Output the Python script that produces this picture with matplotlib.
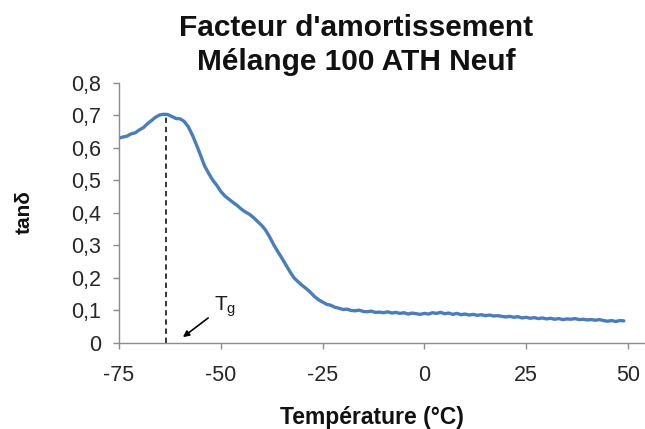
import matplotlib
matplotlib.use('Agg')
import matplotlib.pyplot as plt

plt.rcParams['font.family'] = ['Liberation Sans', 'DejaVu Sans']
plt.rcParams['mathtext.default'] = 'regular'
plt.rcParams['axes.unicode_minus'] = False

# temperature (°C) and tan delta
temperature = [-75, -74, -73, -72, -71, -70, -69, -68, -67, -66, -65, -64, -63, -62, -61,
               -60, -59, -58, -57, -56, -55, -54, -53, -52, -51, -50, -49, -48, -47, -46,
               -45, -44, -43, -42, -41, -40, -39, -38, -37, -36, -35, -34, -33, -32, -31,
               -30, -29, -28, -27, -26, -25, -24, -23, -22, -21, -20, -19, -18, -17, -16,
               -15, -14, -13, -12, -11, -10, -9, -8, -7, -6, -5, -4, -3, -2, -1,
               0, 1, 2, 3, 4, 5, 6, 7, 8, 9, 10, 11, 12, 13, 14,
               15, 16, 17, 18, 19, 20, 21, 22, 23, 24, 25, 26, 27, 28, 29,
               30, 31, 32, 33, 34, 35, 36, 37, 38, 39, 40, 41, 42, 43, 44,
               45, 46, 47, 48, 49]
tan_delta = [0.630, 0.633, 0.636, 0.643, 0.646, 0.655, 0.662, 0.674, 0.684, 0.694, 0.701, 0.703, 0.702, 0.696, 0.690,
             0.689, 0.681, 0.665, 0.640, 0.610, 0.578, 0.545, 0.522, 0.501, 0.485, 0.466, 0.452, 0.442, 0.432, 0.423,
             0.412, 0.403, 0.396, 0.386, 0.374, 0.362, 0.347, 0.326, 0.302, 0.281, 0.261, 0.240, 0.219, 0.200, 0.188,
             0.177, 0.167, 0.156, 0.143, 0.133, 0.126, 0.119, 0.116, 0.110, 0.107, 0.103, 0.104, 0.100, 0.099, 0.101,
             0.097, 0.096, 0.098, 0.094, 0.095, 0.093, 0.096, 0.092, 0.094, 0.091, 0.093, 0.089, 0.092, 0.090, 0.088,
             0.091, 0.089, 0.093, 0.091, 0.094, 0.090, 0.092, 0.088, 0.091, 0.087, 0.089, 0.086, 0.088, 0.085, 0.087,
             0.084, 0.086, 0.083, 0.084, 0.082, 0.080, 0.082, 0.079, 0.081, 0.077, 0.079, 0.076, 0.078, 0.075, 0.077,
             0.074, 0.076, 0.073, 0.075, 0.072, 0.074, 0.073, 0.075, 0.072, 0.073, 0.071, 0.072, 0.070, 0.072, 0.069,
             0.067, 0.069, 0.066, 0.069, 0.068]

tg = -63.5
tg_peak = 0.705
x_ticks = [-75, -50, -25, 0, 25, 50]
y_ticks = [0, 0.1, 0.2, 0.3, 0.4, 0.5, 0.6, 0.7, 0.8]
y_labels = ['0', '0,1', '0,2', '0,3', '0,4', '0,5', '0,6', '0,7', '0,8']

fig = plt.figure(figsize=(6.45, 4.29), dpi=100)
ax = fig.add_axes([119 / 645, 1 - 343 / 429, 526 / 645, 260.3 / 429])

ax.plot(temperature, tan_delta, color='#4a7ebb', lw=2.4, solid_capstyle='round')
ax.plot([tg, tg], [0, tg_peak], color='black', lw=1.1, ls=(0, (3.5, 2.5)))

ax.annotate('', xy=(-59.3, 0.018), xytext=(-53.1, 0.077),
            arrowprops=dict(arrowstyle='-|>', color='black', lw=1.2,
                            mutation_scale=9, shrinkA=0, shrinkB=0))
ax.text(-51.6, 0.112, 'T$_g$', fontsize=15, color='#1a1a1a', va='center', ha='left')

ax.set_xlim(-75, 54.2)
ax.set_ylim(0, 0.8)
ax.set_xticks(x_ticks)
ax.set_yticks(y_ticks)
ax.set_yticklabels(y_labels)

for side in ['top', 'right']:
    ax.spines[side].set_visible(False)
for side in ['left', 'bottom']:
    ax.spines[side].set_color('#8c8c8c')
    ax.spines[side].set_linewidth(1.0)

ax.tick_params(axis='both', colors='#8c8c8c', length=4, width=1.0, labelsize=15.5,
               labelcolor='#262626')
ax.tick_params(axis='x', pad=12)
ax.tick_params(axis='y', pad=9)

ax.set_xlabel('Température (°C)', fontsize=16.5, fontweight='bold', color='#111111')
ax.xaxis.set_label_coords(0.481, (343 - 406) / 260.3)
ax.set_ylabel('tanδ', fontsize=15, fontweight='bold', color='#111111')
ax.yaxis.set_label_coords(-0.163, 0.504)

fig.text(356 / 645, 1 - 36 / 429, "Facteur d'amortissement",
         fontsize=21.5, fontweight='bold', ha='center', va='baseline', color='#111111')
fig.text(356 / 645, 1 - 70 / 429, "Mélange 100 ATH Neuf",
         fontsize=21.5, fontweight='bold', ha='center', va='baseline', color='#111111')

fig.savefig('out.png', dpi=100)
